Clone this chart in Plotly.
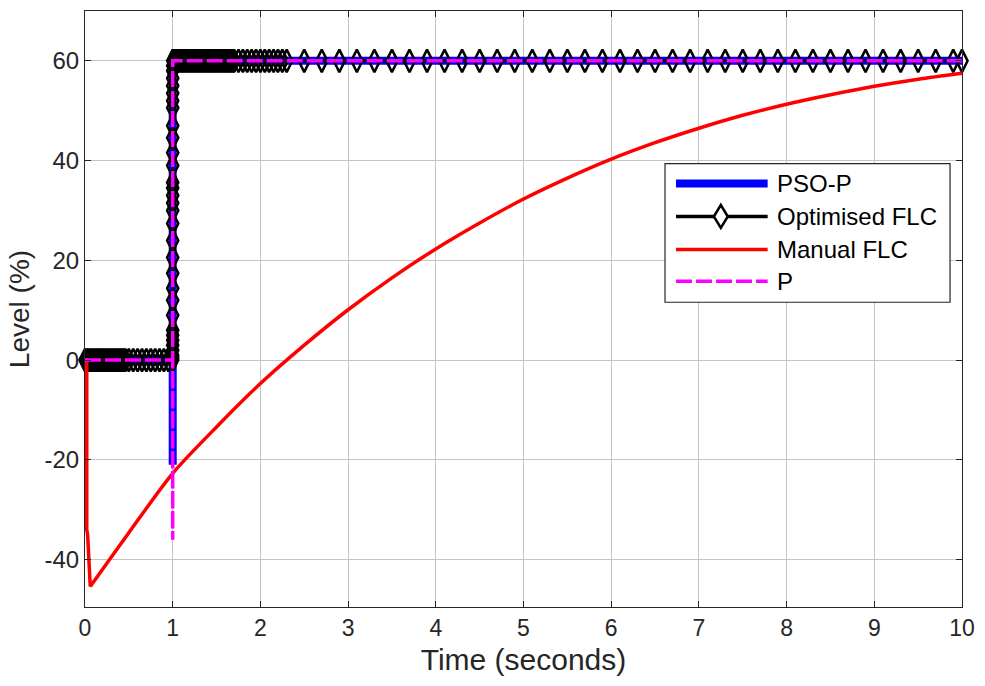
import plotly.graph_objects as go

# ---- simulation output (time in seconds, level in %) ----
PSO_T = [0.0, 1.0, 1.0, 1.0, 10.0]
PSO_Y = [0.0, 0.0, -21.0, 60.0, 60.0]

P_T = [0.0, 1.0, 1.0, 1.0, 10.0]
P_Y = [0.0, 0.0, -36.0, 60.0, 60.0]

# manual FLC: initial dip, then the slow recovery towards the set-point
MAN_T_DIP = [0.0, 0.02, 0.02, 0.03, 0.06]
MAN_Y_DIP = [0.0, 0.0, -34.0, -35.0, -45.4]
MAN_T_RISE = [0.06, 0.5, 1.0, 1.5, 2.0, 2.5, 3.0, 3.5, 4.0, 4.5, 5.0, 5.5, 6.0, 6.5, 7.0,
              7.5, 8.0, 8.5, 9.0, 9.5, 10.0]
MAN_Y_RISE = [-45.4, -34.6, -22.7, -13.4, -4.7, 3.0, 10.1, 16.5, 22.3, 27.5, 32.3, 36.5,
              40.3, 43.6, 46.5, 49.1, 51.3, 53.2, 54.9, 56.3, 57.5]

# optimised FLC: solver sample times before, during and after the set-point step
OPT_T_LOW = [0.00, 0.02, 0.04, 0.06, 0.08, 0.10, 0.12, 0.14, 0.16, 0.18, 0.20, 0.22, 0.24,
             0.26, 0.28, 0.30, 0.32, 0.34, 0.36, 0.38, 0.40, 0.42, 0.44, 0.46, 0.50, 0.55,
             0.60, 0.65, 0.70, 0.75, 0.80, 0.85, 0.90, 0.95]
OPT_Y_LOW = [0.0] * len(OPT_T_LOW)
OPT_Y_RISE = [0.0, 0.5, 1.0, 2.0, 3.0, 4.0, 5.0, 6.0, 9.0, 12.0, 14.4, 17.4, 20.6, 24.0,
              27.4, 30.0, 31.5, 33.0, 34.5, 35.6, 39.0, 41.6, 44.6, 47.0, 50.6, 52.0, 53.5,
              55.0, 56.5, 58.0, 59.0]
OPT_T_RISE = [1.0] * len(OPT_Y_RISE)
OPT_T_HIGH = [1.00, 1.02, 1.04, 1.06, 1.08, 1.10, 1.12, 1.14, 1.16, 1.18, 1.20, 1.22, 1.24,
              1.26, 1.28, 1.30, 1.32, 1.34, 1.36, 1.38, 1.40, 1.42, 1.44, 1.46, 1.48, 1.50,
              1.52, 1.54, 1.56, 1.58, 1.60, 1.62, 1.64, 1.66, 1.68, 1.70, 1.75, 1.80, 1.85,
              1.90, 1.95, 2.00, 2.05, 2.10, 2.15, 2.20, 2.25, 2.30, 2.5, 2.7, 2.9, 3.1, 3.3,
              3.5, 3.7, 3.9, 4.1, 4.3, 4.5, 4.7, 4.9, 5.1, 5.3, 5.5, 5.7, 5.9, 6.1, 6.3, 6.5,
              6.7, 6.9, 7.1, 7.3, 7.5, 7.7, 7.9, 8.1, 8.3, 8.5, 8.7, 8.9, 9.1, 9.3, 9.5, 9.7,
              9.9, 10.0]
OPT_Y_HIGH = [60.0] * len(OPT_T_HIGH)

OPT_T = OPT_T_LOW + OPT_T_RISE + OPT_T_HIGH
OPT_Y = OPT_Y_LOW + OPT_Y_RISE + OPT_Y_HIGH

X_TICKS = [0, 1, 2, 3, 4, 5, 6, 7, 8, 9, 10]
Y_TICKS = [-40, -20, 0, 20, 40, 60]

LEGEND_NAMES = ["PSO-P", "Optimised FLC", "Manual FLC", "P"]

BLUE, BLACK, RED, MAGENTA = "#0000ff", "#000000", "#ff0000", "#ff00ff"
AXIS_COL = "#262626"
FONT = "Liberation Sans, Arial, sans-serif"

fig = go.Figure()
fig.add_trace(go.Scatter(x=PSO_T, y=PSO_Y, mode="lines", line=dict(color=BLUE, width=8),
                         showlegend=False))
fig.add_trace(go.Scatter(x=OPT_T, y=OPT_Y, mode="lines+markers",
                         line=dict(color=BLACK, width=3),
                         marker=dict(symbol="diamond-tall-open", size=16, color=BLACK,
                                     line=dict(color=BLACK, width=2.5)),
                         showlegend=False, cliponaxis=False))
fig.add_trace(go.Scatter(x=MAN_T_DIP, y=MAN_Y_DIP, mode="lines",
                         line=dict(color=RED, width=3.5), showlegend=False))
fig.add_trace(go.Scatter(x=MAN_T_RISE, y=MAN_Y_RISE, mode="lines",
                         line=dict(color=RED, width=3.5, shape="spline", smoothing=0.8),
                         showlegend=False))
fig.add_trace(go.Scatter(x=P_T, y=P_Y, mode="lines",
                         line=dict(color=MAGENTA, width=3.5, dash="16px,4px"),
                         showlegend=False))

# plot-area geometry in pixels (used to place the boxed legend)
W, H = 985, 686
ML, MR, MT, MB = 85, 20, 10, 78.5
PW, PH = W - ML - MR, H - MT - MB


def px(x):
    return (x - ML) / PW


def py(y):
    return (H - MB - y) / PH


shapes = [dict(type="rect", xref="paper", yref="paper", x0=px(667), x1=px(953),
               y0=py(302), y1=py(163), line=dict(color=AXIS_COL, width=1.2),
               fillcolor="white", layer="above")]
annotations = []
rows = [183, 216, 249, 281]
styles = [dict(color=BLUE, width=8), dict(color=BLACK, width=3.5),
          dict(color=RED, width=3.5), dict(color=MAGENTA, width=3.5, dash="16px,4px")]
for name, yy, st in zip(LEGEND_NAMES, rows, styles):
    shapes.append(dict(type="line", xref="paper", yref="paper", x0=px(678), x1=px(770),
                       y0=py(yy), y1=py(yy), line=st, layer="above"))
    annotations.append(dict(text=name, xref="paper", yref="paper", x=px(777), y=py(yy),
                            xanchor="left", yanchor="middle", showarrow=False,
                            font=dict(family=FONT, size=24, color="#000000")))
# diamond marker sample for the optimised FLC entry
cx, cy, hw, hh = 723, 216, 7, 11.5
shapes.append(dict(type="path", xref="paper", yref="paper",
                   path=(f"M {px(cx)},{py(cy - hh)} L {px(cx + hw)},{py(cy)} "
                         f"L {px(cx)},{py(cy + hh)} L {px(cx - hw)},{py(cy)} Z"),
                   line=dict(color=BLACK, width=2.5), fillcolor="white", layer="above"))

axis_common = dict(showline=True, linecolor=AXIS_COL, linewidth=1.2, mirror="ticks",
                   ticks="inside", ticklen=6, tickcolor=AXIS_COL, tickwidth=1,
                   showgrid=True, gridcolor="#c4c4c4", gridwidth=1, zeroline=False)

fig.update_layout(
    width=W, height=H,
    margin=dict(l=ML, r=MR, t=MT, b=MB),
    paper_bgcolor="white", plot_bgcolor="white",
    font=dict(family=FONT, color=AXIS_COL),
    showlegend=False,
    xaxis=dict(range=[0, 10], tickvals=X_TICKS, ticktext=[str(v) for v in X_TICKS],
               tickfont=dict(size=23, family="Liberation Sans Narrow, " + FONT),
               title=dict(text="Time (seconds)", font=dict(size=30), standoff=9),
               **axis_common),
    yaxis=dict(range=[-49.5, 70], tickvals=Y_TICKS, ticktext=[str(v) for v in Y_TICKS],
               tickfont=dict(size=24),
               title=dict(text="Level (%)", font=dict(size=28), standoff=6),
               **axis_common),
    shapes=shapes, annotations=annotations,
)

fig.write_html("out.html")
